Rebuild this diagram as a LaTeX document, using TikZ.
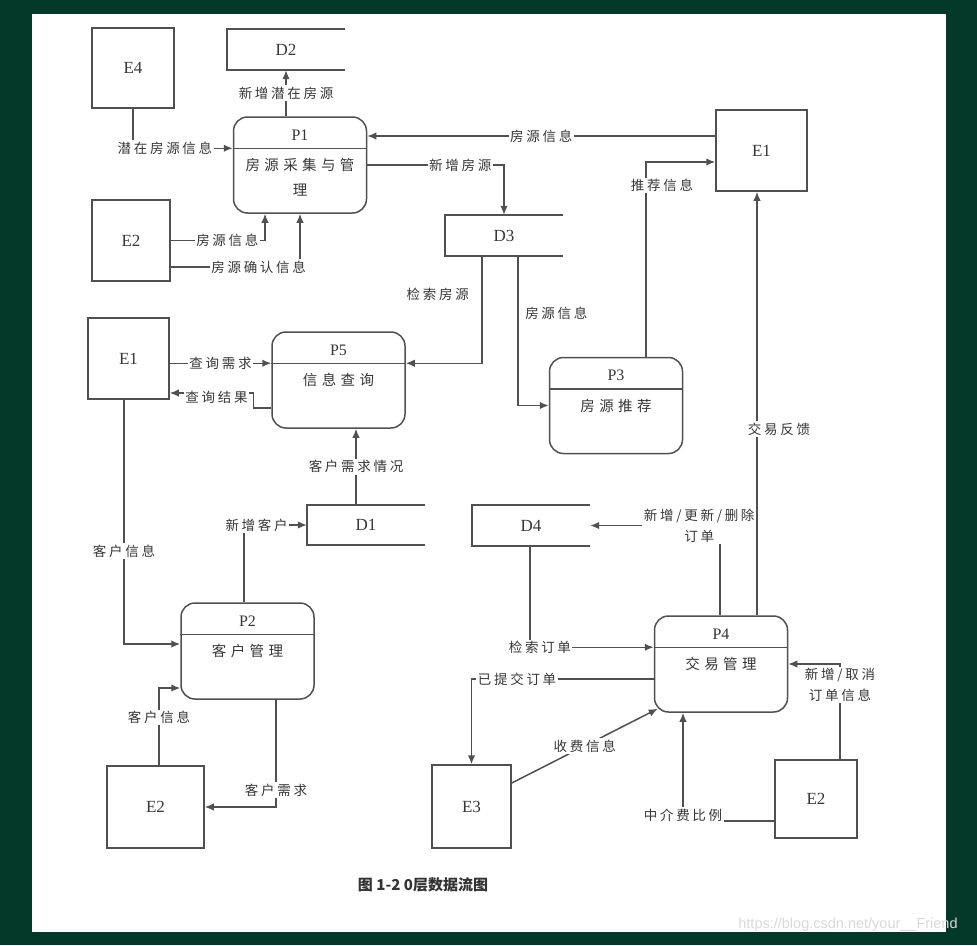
\documentclass[tikz,border=0pt]{standalone}
\usepackage{fontspec}
\setmainfont{Liberation Serif}
\newfontfamily\cjk[LetterSpace=20]{Noto Sans CJK SC}
\newfontfamily\cjkp[LetterSpace=30]{Noto Sans CJK SC}
\newfontfamily\cjkb{Noto Sans CJK SC}
\newfontfamily\wm{Liberation Sans}
\usetikzlibrary{arrows.meta,calc}

\definecolor{bgg}{RGB}{4,57,42}
\definecolor{ink}{RGB}{80,80,80}
\definecolor{txt}{RGB}{55,55,55}

\tikzset{
 ln/.style={draw=ink, line width=1.5pt},
 arr/.style={ln, -{Latex[length=9pt,width=7.5pt]}},
 ent/.style={ln, rectangle, inner sep=0pt, font=\fontsize{17}{17}\selectfont, text=txt},
 stor/.style={rectangle, inner sep=0pt, minimum width=118pt, minimum height=41pt, font=\fontsize{17}{17}\selectfont, text=txt},
 proc/.style={ln, rectangle, rounded corners=14pt, minimum width=133pt, minimum height=96pt, inner sep=0pt},
 ptitle/.style={font=\fontsize{16}{16}\selectfont, text=txt, inner sep=0pt},
 ptext/.style={font=\cjkp\fontsize{14.5}{25}\selectfont, text=txt, inner sep=0pt, align=center},
 lbl/.style={font=\cjk\fontsize{13.5}{21}\selectfont, text=txt, fill=white, inner sep=1.5pt, align=center},
 lblnf/.style={font=\cjk\fontsize{13.5}{21}\selectfont, text=txt, inner sep=1.5pt},
}

\newcommand\storelines[1]{\draw[ln] (#1.north east) -- (#1.north west) -- (#1.south west) -- (#1.south east);}
\newcommand\procbox[5]{%
  \node[proc] (#1) at (#2,#3) {};
  \draw[ln] ($(#1.north west)+(0,32)$) coordinate (#1dl) -- ($(#1.north east)+(0,32)$) coordinate (#1dr);
  \node[ptitle] (#1t) at ($(#1.north)+(0,19)$) {#4};
  \node[ptext] (#1x) at ($(#1.north)+(0,49)$) {#5};
}

\begin{document}
\begin{tikzpicture}[x=1pt,y=-1pt]
\useasboundingbox (0,0) rectangle (977,945);
\fill[bgg] (0,0) rectangle (977,945);
\fill[white] (32,14) rectangle (946,932);

% external entities
\node[ent, minimum width=82pt, minimum height=80pt] (e4) at (133,68) {E4};
\node[ent, minimum width=78pt, minimum height=81pt] (e2a) at (131,240.5) {E2};
\node[ent, minimum width=91pt, minimum height=81pt] (e1a) at (761.5,150.5) {E1};
\node[ent, minimum width=81pt, minimum height=81pt] (e1b) at (128.5,358.5) {E1};
\node[ent, minimum width=97pt, minimum height=82pt] (e2b) at (155.5,807) {E2};
\node[ent, minimum width=79pt, minimum height=83pt] (e3) at (471.5,806.5) {E3};
\node[ent, minimum width=82pt, minimum height=78pt] (e2c) at (816,799) {E2};

% data stores
\node[stor] (d2) at (286,49.5) {D2};
\node[stor] (d3) at (504,235.5) {D3};
\node[stor, minimum height=40pt] (d1) at (366,525) {D1};
\node[stor] (d4) at (531,525.5) {D4};
\storelines{d2}\storelines{d3}\storelines{d1}\storelines{d4}

% processes
\procbox{p1}{300}{165}{P1}{}
\node[ptext] (p1x) at ($(p1.north)+(0,61)$) {房源采集与管\\理};
\procbox{p5}{338.5}{380}{P5}{信息查询}
\procbox{p3}{616}{405.5}{P3}{房源推荐}
\procbox{p2}{247.5}{651}{P2}{客户管理}
\procbox{p4}{721}{664}{P4}{交易管理}

% flows
\draw[arr] (p1.north -| d2.south) -- (d2.south) node[lbl, midway]{新增潜在房源};
\draw[arr] (e4.south) |- (p1dl) node[lbl, pos=0.66]{潜在房源信息};
\draw[arr] (e2a.east) -| ($(p1.south)+(-35,0)$) node[lbl,pos=0.3]{房源信息};
\draw[arr] ($(e2a.east)+(0,26.5)$) -| (p1.south) node[lbl,pos=0.34]{房源确认信息};
\draw[arr] ($(e1a.west)+(0,-14.5)$) -- ($(p1.east)+(0,-29)$) node[lbl,midway]{房源信息};
\draw[arr] (p1.east) -| (d3.north) node[lbl,pos=0.34]{新增房源};
\draw[arr] ($(d3.south)+(-22,0)$) |- (p5dr) node[lblnf,pos=0.18,left=11pt]{检索房源};
\draw[arr] ($(d3.south)+(14,0)$) |- (p3.west) node[lblnf,pos=0.19,right=5pt]{房源信息};
\draw[arr] ($(p3.north)+(30,0)$) |- ($(e1a.west)+(0,11.5)$) node[lbl,pos=0.44,xshift=16pt]{推荐信息};
\draw[arr] ($(p4.north)+(36,0)$) -- ($(e1a.south)+(-4.5,0)$) node[lbl,pos=0.44,xshift=22pt]{交易反馈};
\draw[arr] (e1b.east |- p5dl) -- (p5dl) node[lbl,midway]{查询需求};
\draw[arr] ($(p5.west)+(0,28)$) -- ++(-18,0) |- ($(e1b.east)+(0,34.5)$) node[lbl,pos=0.72,yshift=-4pt]{查询结果};
\draw[arr] ($(d1.north)+(-10,0)$) -- ($(p5.south)+(17.5,0)$) node[lbl,midway]{客户需求情况};
\draw[arr] ($(p2.north)+(-3.5,0)$) |- (d1.west) node[lbl,pos=0.6]{新增客户};
\draw[arr] ($(e1b.south)+(-4.5,0)$) |- ($(p2.west)+(0,-7)$) node[lbl,pos=0.31]{客户信息};
\draw[arr] ($(e2b.north)+(3.5,0)$) |- ($(p2.west)+(0,37)$) node[lbl,pos=0.31]{客户信息};
\draw[arr] ($(p2.south)+(28.5,0)$) |- (e2b.east) node[lbl,pos=0.42]{客户需求};
\draw[arr] ($(p4.north)+(-1,0)$) |- (d4.east) node[lbl,pos=0.58]{新增/更新/删除\\订单};
\draw[arr] ($(d4.south)+(-1,0)$) |- (p4dl) node[lbl,pos=0.54]{检索订单};
\draw[arr] ($(p4.west)+(0,15)$) -| (e3.north) node[lbl,pos=0.375]{已提交订单};
\draw[arr] ($(e3.east)+(0,-23.5)$) -- ($(p4.south west)+(4,-4)$) node[lbl,midway]{收费信息};
\draw[arr] ($(e2c.north)+(24,0)$) |- (p4.east) node[lbl,pos=0.39]{新增/取消\\订单信息};
\draw[arr] ($(e2c.west)+(0,22)$) -| ($(p4.south)+(-38,0)$) node[lbl,pos=0.5,yshift=6pt]{中介费比例};

% caption and watermark
\node[font=\cjkb\bfseries\fontsize{15}{15}\selectfont, text=black!80] (cap) at (423,885) {图 1-2 0层数据流图};
\node[font=\wm\fontsize{14.5}{14.5}\selectfont, text=gray!30] (wmk) at (848,925) {https://blog.csdn.net/your\_\_Friend};
\end{tikzpicture}
\end{document}
